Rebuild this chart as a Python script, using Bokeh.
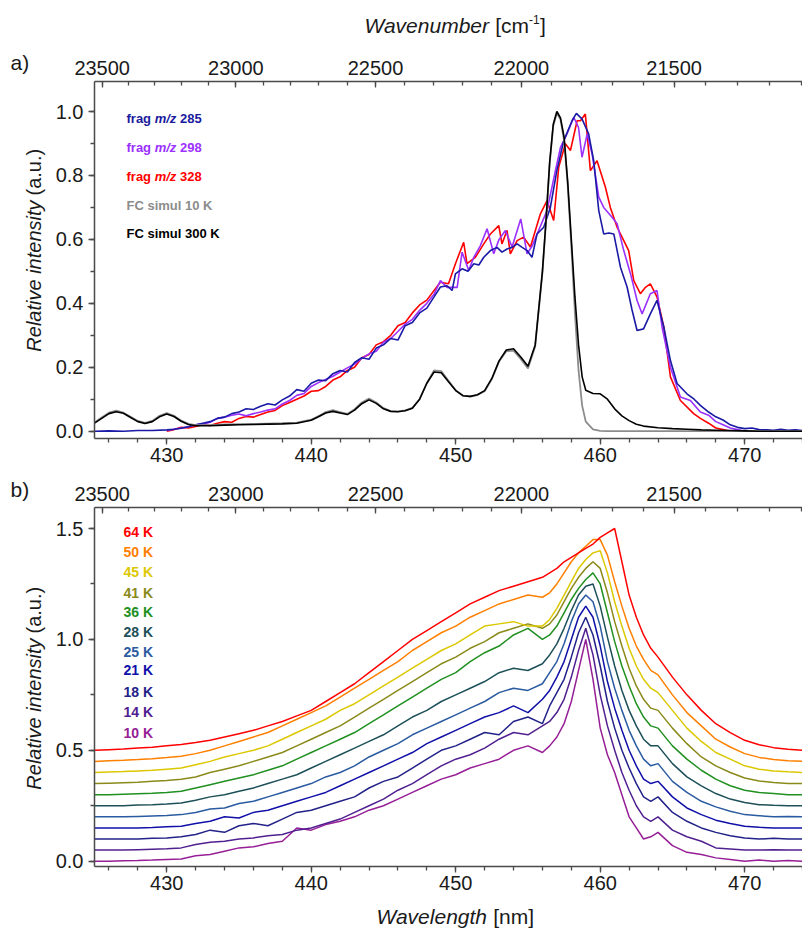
import math
from bokeh.plotting import figure
from bokeh.models import (Range1d, LinearAxis, FixedTicker, SingleIntervalTicker,
                          CustomJSTickFormatter, PrintfTickFormatter, Label)
from bokeh.layouts import column, row
from bokeh.embed import file_html
from bokeh.resources import INLINE

FONT = "Liberation Sans"
AXC = "#4a4a4a"
TXC = "#1a1a1a"

# ---------------- panel a data ----------------
wl_sim = [425, 425.5, 426, 426.5, 427, 427.5, 428, 428.5, 429, 429.5, 430, 430.5, 431, 431.5,
          432, 433, 434, 435, 436, 437, 438, 439,
          440, 440.5, 441, 441.5, 442, 442.5, 443, 443.5, 444, 444.5, 445, 445.5, 446, 446.5,
          447, 447.5, 448, 448.5, 449, 449.5, 450, 450.5, 451, 451.5, 452, 452.5, 453, 453.5,
          454, 454.5, 455, 455.5,
          456, 456.25, 456.5, 456.75, 457, 457.25, 457.5, 457.75, 458, 458.25, 458.5, 458.75, 459,
          459.5, 460, 460.5, 461, 461.5, 462, 462.5, 463,
          464, 465, 466, 467, 468, 469, 470, 471, 472, 473, 474]
sim_300K = [0.025, 0.04, 0.055, 0.061, 0.056, 0.043, 0.03, 0.024, 0.03, 0.045, 0.054, 0.046, 0.031, 0.021,
            0.017, 0.017, 0.019, 0.02, 0.021, 0.022, 0.023, 0.025,
            0.034, 0.045, 0.057, 0.062, 0.057, 0.052, 0.066, 0.086, 0.098, 0.087, 0.07, 0.062, 0.061, 0.064,
            0.072, 0.1, 0.15, 0.185, 0.183, 0.155, 0.127, 0.111, 0.109, 0.114, 0.127, 0.165, 0.22, 0.254,
            0.258, 0.232, 0.203, 0.27,
            0.5, 0.66, 0.84, 0.96, 1.0, 0.98, 0.92, 0.78, 0.6, 0.42, 0.27, 0.17, 0.128,
            0.118, 0.117, 0.1, 0.07, 0.048, 0.033, 0.022, 0.016,
            0.011, 0.008, 0.006, 0.004, 0.003, 0.002, 0.001, 0.0, 0.0, 0.0, 0.0]
sim_10K = [0.027, 0.043, 0.058, 0.064, 0.058, 0.045, 0.032, 0.026, 0.032, 0.048, 0.057, 0.048, 0.033, 0.023,
           0.019, 0.019, 0.021, 0.022, 0.023, 0.024, 0.025, 0.027,
           0.036, 0.047, 0.06, 0.066, 0.06, 0.054, 0.069, 0.09, 0.102, 0.09, 0.072, 0.063, 0.062, 0.065,
           0.073, 0.1, 0.15, 0.19, 0.188, 0.158, 0.128, 0.111, 0.108, 0.113, 0.125, 0.163, 0.218, 0.25,
           0.252, 0.226, 0.196, 0.265,
           0.495, 0.655, 0.835, 0.955, 0.995, 0.975, 0.91, 0.77, 0.58, 0.37, 0.19, 0.08, 0.03,
           0.006, 0.001, 0.0, 0.0, 0.0, 0.0, 0.0, 0.0,
           0.0, 0.0, 0.0, 0.0, 0.0, 0.0, 0.0, 0.0, 0.0, 0.0, 0.0]

wl_285 = [425, 426, 427, 428, 429,
          430, 430.5, 431, 431.5, 432, 432.5, 433, 433.5, 434, 434.5, 435, 435.5, 436, 436.5, 437, 437.5,
          438, 438.5, 439, 439.5, 440, 440.5, 441, 441.5, 442, 442.5, 443, 443.5, 444, 444.5, 445, 445.5,
          446, 446.5, 447, 447.5, 448, 448.5,
          448.94, 449.4, 449.75, 449.98, 450.44, 450.85, 451.25, 451.6, 451.94, 452.4,
          452.86, 453.2, 453.55, 453.9, 454.25, 454.6, 454.94, 455.28, 455.63, 456.09,
          456.55, 457.0, 457.48, 458.05, 458.35, 458.74, 459.2, 459.55, 459.9, 460.24,
          460.6, 460.94, 461.4, 461.86, 462.2, 462.55, 463.0, 463.47, 463.93, 464.4,
          464.86, 465.32, 466.0, 466.5, 466.93,
          467.5, 468, 468.5, 469, 469.5, 470, 470.5, 471, 471.5, 472, 472.5, 473, 473.5, 474]
int_285 = [0.0, 0.001, 0.0, 0.002, 0.002,
           0.004, 0.006, 0.009, 0.014, 0.02, 0.025, 0.03, 0.04, 0.044, 0.055, 0.06, 0.07, 0.068, 0.078, 0.086, 0.082,
           0.098, 0.11, 0.13, 0.125, 0.15, 0.16, 0.158, 0.18, 0.19, 0.185, 0.215, 0.23, 0.225, 0.26, 0.27, 0.29,
           0.285, 0.33, 0.34, 0.37, 0.385, 0.42,
           0.451, 0.455, 0.44, 0.492, 0.508, 0.5, 0.524, 0.52, 0.544, 0.565,
           0.575, 0.56, 0.57, 0.575, 0.586, 0.575, 0.565, 0.544, 0.617, 0.638,
           0.7, 0.815, 0.909, 0.971, 0.994, 0.977, 0.93, 0.846, 0.69, 0.617,
           0.62, 0.617, 0.513, 0.451, 0.38, 0.315, 0.32, 0.367, 0.409, 0.326,
           0.221, 0.149, 0.117, 0.1, 0.081,
           0.06, 0.045, 0.035, 0.02, 0.012, 0.008, 0.01, 0.005, 0.004, 0.003, 0.006, 0.003, 0.004, 0.002]

wl_298 = [430, 430.5, 431, 431.5, 432, 432.5, 433, 433.5, 434, 434.5, 435, 435.5, 436, 436.5, 437, 437.5,
          438, 438.5, 439, 439.5, 440, 440.5, 441, 441.5, 442, 442.5, 443, 443.5, 444, 444.5, 445, 445.5,
          446, 446.5, 447, 447.5, 448, 448.5,
          448.94, 449.4, 450.1, 450.44, 450.9, 451.25, 451.7, 452.17, 452.63, 453.0,
          453.44, 453.9, 454.2, 454.5, 454.94, 455.3, 455.63, 456.32, 456.9, 457.25,
          457.7, 458.17, 458.5, 458.74, 459.1, 459.44, 459.9, 460.24, 460.82, 461.17,
          461.63, 462.1, 462.55, 462.9, 463.47, 463.93, 464.28, 464.86, 465.55, 466.24,
          466.93, 467.5, 468, 468.5, 469, 469.5, 470]
int_298 = [0.002, 0.006, 0.01, 0.014, 0.02, 0.022, 0.028, 0.04, 0.044, 0.05, 0.054, 0.048, 0.055, 0.06, 0.066, 0.07,
           0.085, 0.096, 0.112, 0.118, 0.14, 0.152, 0.162, 0.172, 0.185, 0.198, 0.21, 0.228, 0.242, 0.25, 0.278, 0.29,
           0.312, 0.335, 0.35, 0.378, 0.4, 0.428,
           0.471, 0.45, 0.45, 0.56, 0.503, 0.544, 0.58, 0.633, 0.555, 0.6,
           0.628, 0.576, 0.62, 0.664, 0.555, 0.58, 0.617, 0.69, 0.815, 0.888,
           0.93, 0.982, 0.95, 0.857, 0.93, 0.867, 0.732, 0.7, 0.669, 0.649,
           0.565, 0.492, 0.409, 0.367, 0.43, 0.44, 0.326, 0.2, 0.107, 0.096,
           0.06, 0.05, 0.03, 0.02, 0.01, 0.005, 0.0]

wl_328 = [430, 430.5, 431, 431.5, 432, 432.5, 433, 433.5, 434, 434.5, 435, 435.5, 436, 436.5, 437, 437.5,
          438, 438.5, 439, 439.5, 440, 440.5, 441, 441.5, 442, 442.5, 443, 443.5, 444, 444.5, 445, 445.5,
          446, 446.5, 447, 447.5, 448, 448.5,
          448.94, 449.5, 449.98, 450.55, 450.78, 451.36, 451.94, 452.4, 452.98, 453.2,
          453.55, 453.78, 454.25, 454.7, 455.17, 455.86, 456.32, 456.78, 457.13, 457.59,
          457.94, 458.4, 458.63, 458.97, 459.32, 459.78, 460.36, 460.7, 461.17, 461.63,
          461.97, 462.32, 462.78, 463.13, 463.47, 463.93, 464.4, 464.86, 465.55, 466.47,
          466.93, 467.5, 468, 468.5, 469, 470]
int_328 = [0.0, 0.005, 0.012, 0.01, 0.015, 0.02, 0.018, 0.025, 0.03, 0.028, 0.04, 0.046, 0.044, 0.052, 0.06, 0.065,
           0.08, 0.09, 0.1, 0.11, 0.125, 0.127, 0.14, 0.16, 0.17, 0.19, 0.2, 0.23, 0.24, 0.27, 0.28, 0.3,
           0.33, 0.34, 0.37, 0.395, 0.41, 0.44,
           0.466, 0.461, 0.524, 0.591, 0.524, 0.544, 0.586, 0.617, 0.643, 0.586,
           0.628, 0.555, 0.596, 0.607, 0.576, 0.68, 0.721, 0.659, 0.826, 0.899,
           0.878, 0.971, 0.971, 0.992, 0.815, 0.846, 0.763, 0.7, 0.638, 0.596,
           0.565, 0.471, 0.43, 0.45, 0.461, 0.42, 0.326, 0.17, 0.096, 0.055,
           0.04, 0.025, 0.01, 0.005, 0.0, 0.0]

# ---------------- panel b data (normalised spectra, stacked with offsets) ----------------
wl_b = [425, 426, 427, 428, 429, 430, 431, 432, 433, 434, 435, 436, 437, 438, 439, 440, 441, 442, 443, 444,
        445, 446, 447, 448, 449, 450, 451, 452, 453, 454, 455, 456,
        456.5, 457, 457.5, 458, 458.5, 459, 459.5, 460, 460.5, 461, 461.5, 462, 462.5, 463, 463.5, 464,
        465, 466, 467, 468, 469, 470, 471, 472, 473, 474]
temps = ["10 K", "14 K", "18 K", "21 K", "25 K", "28 K", "36 K", "41 K", "45 K", "50 K", "64 K"]
offsets = [0.0, 0.05, 0.10, 0.15, 0.20, 0.25, 0.30, 0.35, 0.40, 0.45, 0.50]
colors_b = ["#961e96", "#502090", "#222288", "#1010a8", "#2a5aa0", "#1d5059", "#209020",
            "#8a8a1a", "#dcc800", "#ff8000", "#ff0000"]
spec_10K = [0, 0, 0.002, 0.003, 0.005, 0.008, 0.01,
            0.025, 0.03, 0.045, 0.06, 0.065, 0.08, 0.09, 0.15, 0.14, 0.165, 0.18, 0.2, 0.23, 0.25, 0.28, 0.31,
            0.34, 0.37, 0.39, 0.42, 0.44, 0.46, 0.5, 0.52, 0.49,
            0.52, 0.56, 0.62, 0.72, 0.86, 1.0, 0.82, 0.6, 0.48, 0.4, 0.3, 0.2, 0.15, 0.1, 0.11, 0.13,
            0.07, 0.04, 0.03, 0.015, 0.008, 0.0, 0.005, 0.0, 0.003, 0.0]
spec_14K = [0, 0, 0, 0.002, 0.004, 0.006, 0.01,
            0.025, 0.035, 0.04, 0.05, 0.055, 0.065, 0.07, 0.09, 0.1, 0.12, 0.14, 0.17, 0.2, 0.23, 0.27, 0.3,
            0.34, 0.38, 0.41, 0.43, 0.46, 0.5, 0.53, 0.52, 0.56,
            0.58, 0.62, 0.68, 0.78, 0.9, 1.0, 0.88, 0.7, 0.56, 0.45, 0.35, 0.27, 0.2, 0.15, 0.13, 0.15,
            0.09, 0.06, 0.04, 0.01, 0.005, 0.0, 0.0, 0.002, 0.0, 0.0]
spec_18K = [0, 0, 0, 0, 0.003, 0.005, 0.01,
            0.02, 0.04, 0.03, 0.06, 0.07, 0.06, 0.09, 0.12, 0.13, 0.15, 0.17, 0.19, 0.23, 0.26, 0.28, 0.32,
            0.36, 0.4, 0.42, 0.45, 0.48, 0.47, 0.53, 0.55, 0.52,
            0.6, 0.66, 0.72, 0.82, 0.93, 1.0, 0.92, 0.78, 0.62, 0.5, 0.4, 0.32, 0.25, 0.19, 0.17, 0.19,
            0.12, 0.08, 0.05, 0.03, 0.015, 0.005, 0.0, 0.003, 0.0, 0.0]
spec_21K = [0, 0, 0, 0, 0.002, 0.005, 0.008,
            0.02, 0.03, 0.05, 0.045, 0.07, 0.08, 0.1, 0.12, 0.14, 0.16, 0.19, 0.22, 0.25, 0.28, 0.31, 0.34,
            0.38, 0.41, 0.44, 0.47, 0.5, 0.52, 0.55, 0.52, 0.58,
            0.62, 0.68, 0.75, 0.85, 0.95, 1.0, 0.95, 0.82, 0.66, 0.54, 0.44, 0.35, 0.28, 0.22, 0.2, 0.21,
            0.14, 0.09, 0.06, 0.035, 0.02, 0.008, 0.003, 0.0, 0.0, 0.0]
spec_25K = [0, 0, 0, 0.002, 0.004, 0.006, 0.01,
            0.02, 0.035, 0.04, 0.06, 0.07, 0.09, 0.11, 0.13, 0.15, 0.18, 0.2, 0.23, 0.27, 0.3, 0.33, 0.37,
            0.4, 0.43, 0.46, 0.49, 0.52, 0.56, 0.58, 0.57, 0.6,
            0.65, 0.7, 0.78, 0.88, 0.96, 1.0, 0.97, 0.86, 0.7, 0.58, 0.48, 0.39, 0.32, 0.26, 0.23, 0.24,
            0.16, 0.11, 0.07, 0.045, 0.025, 0.01, 0.005, 0.0, 0.002, 0.0]
spec_28K = [0, 0, 0, 0.003, 0.005, 0.008, 0.012,
            0.025, 0.04, 0.05, 0.065, 0.08, 0.1, 0.12, 0.14, 0.17, 0.2, 0.23, 0.26, 0.29, 0.32, 0.36, 0.4,
            0.43, 0.47, 0.5, 0.53, 0.56, 0.6, 0.62, 0.61, 0.64,
            0.68, 0.73, 0.8, 0.88, 0.95, 0.99, 1.0, 0.9, 0.76, 0.63, 0.52, 0.43, 0.36, 0.3, 0.27, 0.27,
            0.19, 0.13, 0.09, 0.055, 0.03, 0.015, 0.005, 0.002, 0.0, 0.0]
spec_36K = [0, 0, 0.002, 0.004, 0.006, 0.01, 0.015,
            0.03, 0.045, 0.06, 0.075, 0.09, 0.11, 0.13, 0.16, 0.19, 0.22, 0.25, 0.28, 0.32, 0.36, 0.4, 0.44,
            0.48, 0.52, 0.55, 0.6, 0.64, 0.67, 0.72, 0.75, 0.7,
            0.72, 0.76, 0.82, 0.88, 0.93, 0.97, 1.0, 0.95, 0.82, 0.69, 0.58, 0.49, 0.41, 0.35, 0.31, 0.3,
            0.22, 0.16, 0.11, 0.07, 0.04, 0.02, 0.01, 0.005, 0.0, 0.0]
spec_41K = [0, 0.002, 0.004, 0.006, 0.01, 0.014, 0.02,
            0.03, 0.05, 0.065, 0.08, 0.1, 0.12, 0.14, 0.17, 0.2, 0.23, 0.26, 0.3, 0.34, 0.38, 0.42, 0.46,
            0.5, 0.54, 0.57, 0.61, 0.64, 0.68, 0.7, 0.72, 0.7,
            0.72, 0.76, 0.82, 0.88, 0.93, 0.97, 1.0, 0.97, 0.86, 0.73, 0.62, 0.52, 0.44, 0.38, 0.34, 0.33,
            0.25, 0.18, 0.12, 0.08, 0.05, 0.025, 0.012, 0.005, 0.0, 0.0]
spec_45K = [0, 0.002, 0.004, 0.007, 0.01, 0.015, 0.02,
            0.035, 0.05, 0.07, 0.085, 0.1, 0.12, 0.15, 0.18, 0.21, 0.24, 0.28, 0.31, 0.35, 0.39, 0.43, 0.47,
            0.51, 0.55, 0.58, 0.62, 0.66, 0.67, 0.68, 0.66, 0.66,
            0.69, 0.74, 0.8, 0.86, 0.92, 0.96, 0.99, 1.0, 0.9, 0.77, 0.66, 0.56, 0.48, 0.42, 0.38, 0.36,
            0.28, 0.2, 0.14, 0.09, 0.06, 0.03, 0.015, 0.007, 0.003, 0.0]
spec_50K = [0, 0.003, 0.005, 0.008, 0.012, 0.017, 0.023,
            0.035, 0.05, 0.07, 0.09, 0.11, 0.13, 0.16, 0.19, 0.22, 0.25, 0.29, 0.33, 0.37, 0.41, 0.45, 0.5,
            0.54, 0.58, 0.61, 0.65, 0.68, 0.71, 0.73, 0.75, 0.74,
            0.76, 0.8, 0.85, 0.9, 0.94, 0.97, 1.0, 1.0, 0.93, 0.81, 0.7, 0.6, 0.52, 0.46, 0.41, 0.39,
            0.3, 0.22, 0.16, 0.1, 0.065, 0.035, 0.018, 0.008, 0.003, 0.0]
spec_64K = [0, 0.003, 0.006, 0.01, 0.014, 0.02, 0.026,
            0.035, 0.045, 0.06, 0.075, 0.09, 0.11, 0.13, 0.155, 0.18, 0.22, 0.26, 0.3, 0.35, 0.4, 0.45, 0.5,
            0.54, 0.58, 0.62, 0.66, 0.69, 0.72, 0.74, 0.76, 0.78,
            0.8, 0.82, 0.85, 0.87, 0.89, 0.91, 0.93, 0.96, 0.98, 1.0, 0.85, 0.7, 0.6, 0.52, 0.46, 0.42,
            0.33, 0.25, 0.18, 0.12, 0.08, 0.045, 0.025, 0.012, 0.005, 0.0]
spectra_b = [spec_10K, spec_14K, spec_18K, spec_21K, spec_25K, spec_28K, spec_36K,
             spec_41K, spec_45K, spec_50K, spec_64K]

wn_major = [23500, 23000, 22500, 22000, 21500]
wn_minor = [w for w in range(21100, 23600, 100)]

for a, b in [(wl_sim, sim_300K), (wl_sim, sim_10K), (wl_285, int_285), (wl_298, int_298), (wl_328, int_328)]:
    assert len(a) == len(b), (len(a), len(b))
for s in spectra_b:
    assert len(s) == len(wl_b), len(s)

# ---------------- layout helpers (pixel placement of annotations) ----------------
X0, X1 = 425.0, 474.0
def xd(px):
    return X0 + (px - 94.0) / 14.45
def ya(py):
    return (430.7 - py) / 319.7
def yb(py):
    return (860.7 - py) / 221.8


def make_fig(height, y0, y1, btop, bbot):
    p = figure(width=752, height=height, x_range=Range1d(X0, X1), y_range=Range1d(y0, y1),
               output_backend="svg", toolbar_location=None,
               min_border_left=44, min_border_right=0, min_border_top=btop, min_border_bottom=bbot)
    p.grid.visible = False
    p.outline_line_color = None
    p.background_fill_color = "white"
    p.border_fill_color = "white"
    return p


def text_fig(w, h, left=0):
    f = figure(width=w, height=h, x_range=Range1d(0, w - left), y_range=Range1d(0, h),
               output_backend="svg", toolbar_location=None, min_border=0,
               min_border_left=left, min_border_right=0, min_border_top=0, min_border_bottom=0,
               x_axis_type=None, y_axis_type=None)
    f.grid.visible = False
    f.outline_line_color = None
    f.background_fill_color = "white"
    f.border_fill_color = "white"
    return f


def style(ax, tin, tout, mtin, mtout, standoff):
    ax.axis_line_color = AXC
    ax.axis_line_width = 1.5
    ax.major_tick_line_color = AXC
    ax.minor_tick_line_color = AXC
    ax.major_tick_line_width = 1.3
    ax.minor_tick_line_width = 1.3
    ax.major_tick_in = tin
    ax.major_tick_out = tout
    ax.minor_tick_in = mtin
    ax.minor_tick_out = mtout
    ax.major_label_text_font = FONT
    ax.major_label_text_font_size = "20px"
    ax.major_label_text_color = TXC
    ax.major_label_standoff = standoff


def setup_axes(p, yint):
    bx = p.below[0]
    bx.ticker = SingleIntervalTicker(interval=10, num_minor_ticks=5)
    style(bx, 0, 6, 0, 4, 3)
    ly = p.left[0]
    ly.ticker = SingleIntervalTicker(interval=yint, num_minor_ticks=2)
    ly.formatter = PrintfTickFormatter(format="%.1f")
    style(ly, 0, 6, 0, 4, 5)
    top = LinearAxis(ticker=FixedTicker(ticks=[1e7 / w for w in wn_major],
                                        minor_ticks=[1e7 / w for w in wn_minor]),
                     formatter=CustomJSTickFormatter(code="return String(Math.round(1e7 / tick / 100) * 100);"))
    style(top, 6, 0, 4, 0, 7)
    p.add_layout(top, "above")


def txt(p, x, y, text, color=TXC, size="20px", fstyle="normal", **kw):
    p.add_layout(Label(x=x, y=y, text=text, text_color=color, text_font=FONT,
                       text_font_size=size, text_font_style=fstyle,
                       text_baseline="middle", text_align=kw.pop("align", "left"), **kw))


TOTAL_H = 929

# ---------------- title strip (Wavenumber) : frame x starts at screen x 94 ----------------
top_strip = text_fig(752, 48, left=44)
wx = 364.0 - 94
ty = 48 - 25
txt(top_strip, wx, ty, "Wavenumber", TXC, "21px", "italic")
txt(top_strip, wx + 124.9 + 5.8, ty, "[cm", TXC, "21px")
txt(top_strip, wx + 124.9 + 5.8 + 33.8, ty + 6, "-1", TXC, "12px")
txt(top_strip, wx + 124.9 + 5.8 + 33.8 + 11.0, ty, "]", TXC, "21px")

# ---------------- panel a ----------------
p1 = make_fig(424, ya(438.0), ya(81.0), 33, 34)
setup_axes(p1, 0.2)

p1.line(wl_328, int_328, line_color="#ff0000", line_width=1.6)
p1.line(wl_298, int_298, line_color="#9b30ff", line_width=1.6)
p1.line(wl_285, int_285, line_color="#1a1aa6", line_width=1.6)
p1.line(wl_sim, sim_10K, line_color="#8c8c8c", line_width=1.8)
p1.line(wl_sim, sim_300K, line_color="#000000", line_width=1.6)

leg_a = [("285", "#1a1a9e"), ("298", "#9b30ff"), ("328", "#ff0000")]
rows_py = [118, 147, 176, 205, 233]
for (num, col), py in zip(leg_a, rows_py[:3]):
    txt(p1, xd(126), ya(py), "frag", col, "13px", "bold")
    txt(p1, xd(126), ya(py), "m/z", col, "13px", "bold italic", x_offset=28.2)
    txt(p1, xd(126), ya(py), num, col, "13px", "bold", x_offset=53.5)
txt(p1, xd(126), ya(rows_py[3]), "FC simul 10 K", "#8c8c8c", "13px", "bold")
txt(p1, xd(126), ya(rows_py[4]), "FC simul 300 K", "#000000", "13px", "bold")

# ---------------- panel b ----------------
p2 = make_fig(428, yb(866.0), yb(507.0), 35, 34)
setup_axes(p2, 0.5)
for spec, off, col in zip(spectra_b, offsets, colors_b):
    p2.line(wl_b, [v + off for v in spec], line_color=col, line_width=1.5)

leg_py = [531, 551, 571, 592, 611, 631, 651, 669, 691, 711, 732]
for (t, col), py in zip(list(zip(temps, colors_b))[::-1], leg_py):
    txt(p2, xd(123), yb(py), t, col, "14px", "bold")

# ---------------- bottom strip (Wavelength) ----------------
bot_strip = text_fig(752, 29, left=44)
lx = 376.0 - 94
by = 29 - (916 - 900)
txt(bot_strip, lx, by, "Wavelength", TXC, "21px", "italic")
txt(bot_strip, lx + 110.9 + 5.8, by, "[nm]", TXC, "21px")

# ---------------- left strip: panel letters and y titles (pixel coords from bottom) ----------------
left = text_fig(50, TOTAL_H)
def ly_(py):
    return TOTAL_H - py
txt(left, 10, ly_(62), "a)", TXC, "21px")
txt(left, 10, ly_(489), "b)", TXC, "21px")
txt(left, 33, ly_(200.0), "Relative intensity", TXC, "20px", "italic", angle=math.pi / 2, align="right")
txt(left, 33, ly_(195.0), "(a.u.)", TXC, "20px", angle=math.pi / 2)
txt(left, 33, ly_(638.0), "Relative intensity", TXC, "20px", "italic", angle=math.pi / 2, align="right")
txt(left, 33, ly_(633.0), "(a.u.)", TXC, "20px", angle=math.pi / 2)

layout = row(left, column(top_strip, p1, p2, bot_strip))
open("out.html", "w").write(file_html(layout, INLINE))
